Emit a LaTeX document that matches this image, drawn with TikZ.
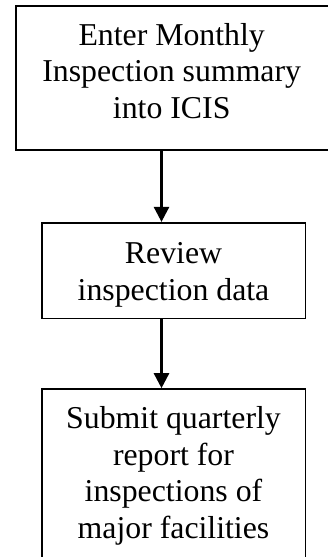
\documentclass[tikz,border=0pt]{standalone}
\usepackage{fontspec}
\setmainfont{Liberation Serif}
\usetikzlibrary{arrows.meta}
\begin{document}
\begin{tikzpicture}[x=1pt,y=1pt,
  boxstyle/.style={draw=black, line width=1.6pt, rectangle, inner sep=0pt},
  textstyle/.style={align=center, inner sep=0pt, anchor=base,
    font=\fontsize{31.8}{36.6}\selectfont},
  flowarrow/.style={draw=black, line width=2.6pt, -{Triangle[width=15pt,length=15pt]}}]
\useasboundingbox (0,0) rectangle (328,-557);
\clip (0,0) rectangle (328,-557);
\node[boxstyle, minimum width=313pt, minimum height=144pt] (b1) at (172.5,-78) {};
\node[boxstyle, minimum width=263.6pt, minimum height=95.6pt] (b2) at (173.5,-270.5) {};
\node[boxstyle, minimum width=263.6pt, minimum height=169pt] (b3) at (173.5,-473.5) {};
\node[textstyle] (t1) at (171.7,-118.3) {Enter Monthly\\Inspection summary\\into ICIS};
\node[textstyle] (t2) at (173.5,-300) {Review\\inspection data};
\node[textstyle] (t3) at (173.5,-538.3) {Submit quarterly\\report for\\inspections of\\major facilities};
\coordinate (a1s) at (161.5,-150);
\coordinate (a1e) at (161.5,-222);
\coordinate (a2s) at (161.5,-318.3);
\coordinate (a2e) at (161.5,-389);
\draw[flowarrow] (b1.south -| a1s) -- (b2.north -| a1e);
\draw[flowarrow] (b2.south -| a2s) -- (b3.north -| a2e);
\end{tikzpicture}
\end{document}
